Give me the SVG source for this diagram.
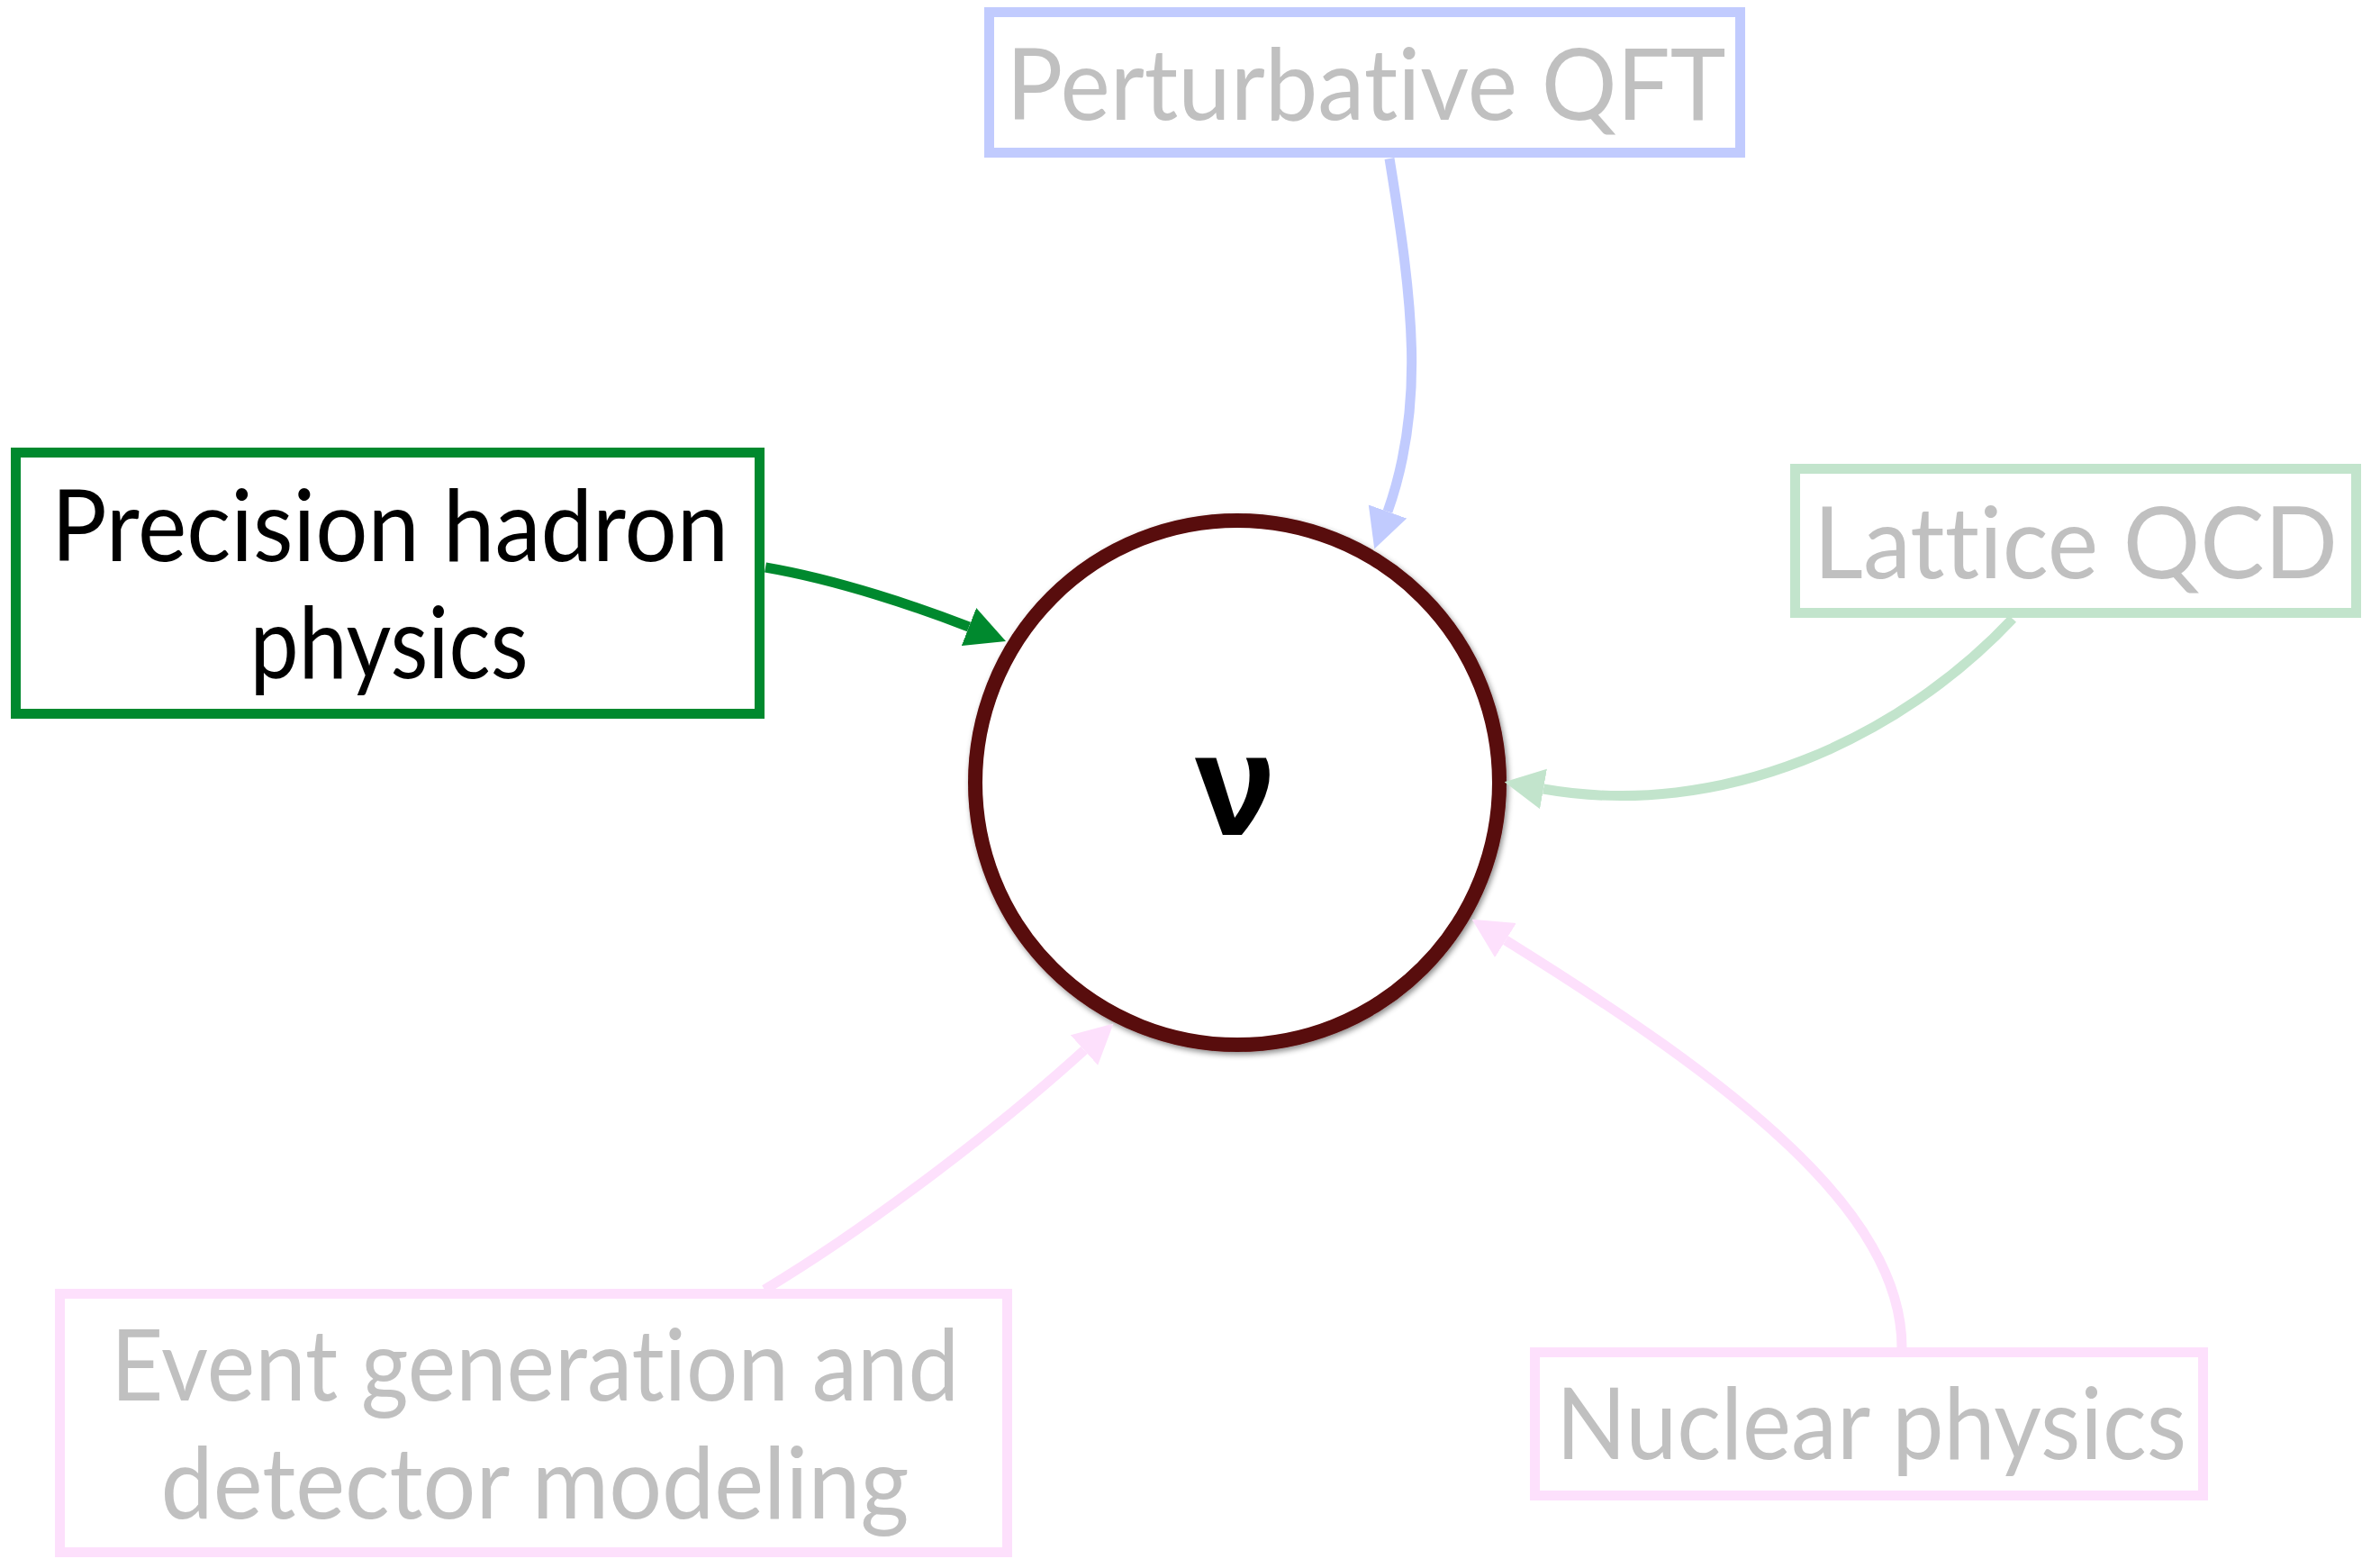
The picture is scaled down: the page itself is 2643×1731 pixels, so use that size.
<svg xmlns="http://www.w3.org/2000/svg" width="2643" height="1731" viewBox="0 0 2643 1731">
<style>
.box{fill:#fff;stroke-width:11}
.lbl{font-family:"Lato","Open Sans","Liberation Sans",sans-serif;font-size:110px;text-anchor:middle;font-variant-ligatures:none;font-feature-settings:"liga" 0,"clig" 0}
.grey{fill:#c0c0c0}
.conn{fill:none;stroke-width:11}
</style>
<defs>
<filter id="sh" x="-10%" y="-10%" width="120%" height="120%">
<feDropShadow dx="2" dy="3" stdDeviation="3" flood-color="#000" flood-opacity="0.45"/>
</filter>
<marker id="aBlue" markerUnits="userSpaceOnUse" orient="auto" viewBox="0 -23 44 46" refX="0" refY="0" markerWidth="44" markerHeight="46"><path d="M0,-22.5 L44,0 L0,22.5 z" fill="#c1cbfe"/></marker>
<marker id="aLGreen" markerUnits="userSpaceOnUse" orient="auto" viewBox="0 -23 44 46" refX="0" refY="0" markerWidth="44" markerHeight="46"><path d="M0,-22.5 L44,0 L0,22.5 z" fill="#c2e4cc"/></marker>
<marker id="aPink" markerUnits="userSpaceOnUse" orient="auto" viewBox="0 -23 44 46" refX="0" refY="0" markerWidth="44" markerHeight="46"><path d="M0,-22.5 L44,0 L0,22.5 z" fill="#fde0fc"/></marker>
<marker id="aGreen" markerUnits="userSpaceOnUse" orient="auto" viewBox="0 -23 44 46" refX="0" refY="0" markerWidth="44" markerHeight="46"><path d="M0,-22.5 L44,0 L0,22.5 z" fill="#00892e"/></marker>
</defs>
<rect width="2643" height="1731" fill="#fff"/>

<g id="node-nu">
<circle cx="1374" cy="869" r="291" fill="#fff" stroke="#580808" stroke-width="16" filter="url(#sh)"/>
<text x="1372" y="927" font-family="Liberation Sans, Arial, sans-serif" font-weight="bold" font-size="162" text-anchor="middle" fill="#000">ν</text>
</g>

<g id="node-pqft">
<rect class="box" x="1098.5" y="13.5" width="834" height="156" stroke="#c1cbfe"/>
<text class="lbl grey" x="1517" y="133" textLength="799" lengthAdjust="spacingAndGlyphs">Perturbative QFT</text>
</g>

<g id="node-precision">
<rect class="box" x="17.5" y="502.5" width="826" height="290" stroke="#00892e"/>
<text class="lbl" x="433" y="623" fill="#000" textLength="752" lengthAdjust="spacingAndGlyphs">Precision hadron</text>
<text class="lbl" x="432" y="753" fill="#000" textLength="309" lengthAdjust="spacingAndGlyphs">physics</text>
</g>

<g id="node-lattice">
<rect class="box" x="1993.5" y="520.5" width="623" height="160" stroke="#c2e4cc"/>
<text class="lbl grey" x="2305" y="642" textLength="582" lengthAdjust="spacingAndGlyphs">Lattice QCD</text>
</g>

<g id="node-event">
<rect class="box" x="66.5" y="1436.5" width="1052" height="287" stroke="#fde0fc"/>
<text class="lbl grey" x="594" y="1555" textLength="942" lengthAdjust="spacingAndGlyphs">Event generation and</text>
<text class="lbl grey" x="594" y="1686" textLength="831" lengthAdjust="spacingAndGlyphs">detector modeling</text>
</g>

<g id="node-nuclear">
<rect class="box" x="1704.5" y="1501.5" width="742" height="159" stroke="#fde0fc"/>
<text class="lbl grey" x="2078" y="1620" textLength="700" lengthAdjust="spacingAndGlyphs">Nuclear physics</text>
</g>

<g id="connectors">
<path class="conn" stroke="#c1cbfe" d="M1543,176 C1569,336 1583,450 1541,568" marker-end="url(#aBlue)"/>
<path class="conn" stroke="#c2e4cc" d="M2235,687 C2110,820 1912,911 1714,876" marker-end="url(#aLGreen)"/>
<path class="conn" stroke="#fde0fc" d="M849,1432 C969,1360 1115,1247 1204,1166" marker-end="url(#aPink)"/>
<path class="conn" stroke="#fde0fc" d="M2112,1496 C2112,1345 1926,1202 1672,1044" marker-end="url(#aPink)"/>
<path class="conn" stroke="#00892e" d="M850,630 C932,644 1022,675 1076,696" marker-end="url(#aGreen)"/>
</g>
</svg>
